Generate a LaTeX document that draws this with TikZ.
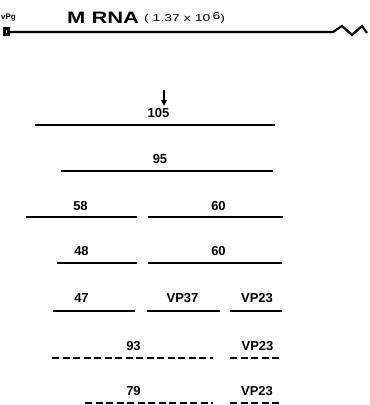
\documentclass[tikz,border=0pt]{standalone}
\usepackage{fontspec}
\setmainfont{Liberation Sans}
\usetikzlibrary{arrows.meta}
\begin{document}
\begin{tikzpicture}[x=1pt,y=-1pt,
  lab/.style={anchor=base,inner sep=0pt,font=\fontsize{13}{13}\selectfont\bfseries},
  seg/.style={line width=2.6pt},
  dseg/.style={line width=2.6pt,dash pattern=on 7pt off 3.5pt}]
\useasboundingbox (0,0) rectangle (370,405);
% header
\node[anchor=base,inner sep=0pt,font=\fontsize{8}{8}\selectfont\bfseries] (vpg) at (8.5,19.5) {vPg};
\node[anchor=base west,inner sep=0pt,font=\fontsize{16.5}{16.5}\selectfont\bfseries] (mrna) at (67,23) {\scalebox{1.33}[1]{M RNA}};
\node[anchor=base west,inner sep=0pt,font=\fontsize{10}{10}\selectfont] (mw) at (144,21.5) {\scalebox{1.4}[1]{( 1.37 x 10\,\raisebox{2.5pt}{6})}};
\draw[line width=2.2pt] (4.5,28.5) rectangle (8.5,34.5);
\draw[line width=2.2pt] (8.5,32) -- (333,32) -- (342,26) -- (352,35) -- (362,26) -- (367,33);
\coordinate (a1) at (164,90);
\coordinate (a2) at (164,106);
\draw[line width=1.8pt,-{Triangle[length=6pt,width=5.5pt]}] (a1) -- (a2);
% row 105
\node[lab] (t105) at (158.5,117) {105};
\draw[seg] (35,125) -- (275,125);
% row 95
\node[lab] (t95) at (160,163) {95};
\draw[seg] (61,171) -- (273,171);
% row 58/60
\node[lab] (t58) at (80.5,210) {58};
\node[lab] (t60a) at (218.5,210) {60};
\draw[seg] (26,217) -- (137,217);
\draw[seg] (148,217) -- (283,217);
% row 48/60
\node[lab] (t48) at (81.5,255) {48};
\node[lab] (t60b) at (218.5,255) {60};
\draw[seg] (57,263) -- (137,263);
\draw[seg] (148,263) -- (282,263);
% row 47/VP37/VP23
\node[lab] (t47) at (81.5,302) {47};
\node[lab] (tvp37) at (182.5,302) {VP37};
\node[lab] (tvp23a) at (257,302) {VP23};
\draw[seg] (53,311) -- (135,311);
\draw[seg] (147,311) -- (220,311);
\draw[seg] (230,311) -- (282,311);
% row 93
\node[lab] (t93) at (133.5,350) {93};
\node[lab] (tvp23b) at (257.5,350) {VP23};
\draw[dseg] (52,358) -- (213,358);
\draw[dseg] (230,358) -- (282,358);
% row 79
\node[lab] (t79) at (133.5,395) {79};
\node[lab] (tvp23c) at (257,395) {VP23};
\draw[dseg] (85,403) -- (213,403);
\draw[dseg] (230,403) -- (282,403);
\end{tikzpicture}
\end{document}
